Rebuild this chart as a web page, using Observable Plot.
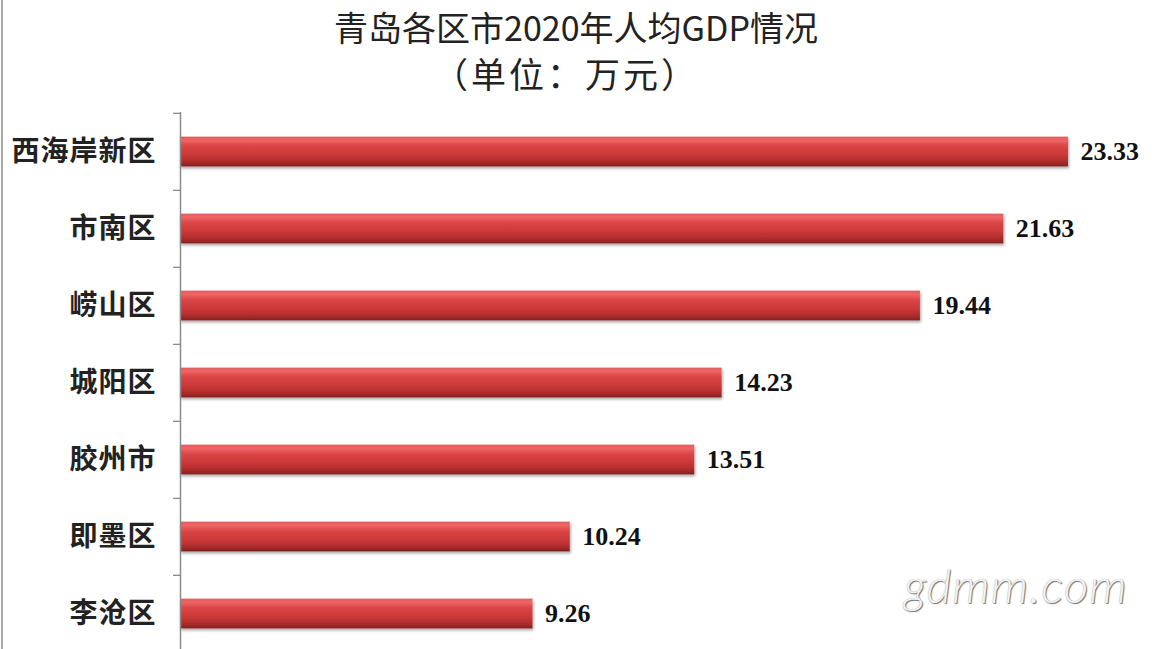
<!DOCTYPE html>
<html><head><meta charset="utf-8">
<script src="https://cdn.jsdelivr.net/npm/d3@7"></script>
<script src="https://cdn.jsdelivr.net/npm/@observablehq/plot@0.6"></script>
<style>
html,body{margin:0;padding:0;background:#fff;}
body{width:1176px;height:649px;overflow:hidden;position:relative;font-family:"Noto Sans CJK SC",sans-serif;}
#frame{position:absolute;left:1px;top:0;width:2px;height:649px;background:#a8a8a8;}
#title{position:absolute;left:0;top:4px;width:1176px;text-align:center;color:#222;line-height:46px;font-weight:400;}
#title div:first-child{padding-right:24px;font-size:34px;}
#title div:last-child{padding-right:44px;font-size:35px;letter-spacing:3px;}
#chart{position:absolute;left:0;top:100px;}
#wm{position:absolute;left:904px;top:556px;font-family:Lato,"Open Sans",sans-serif;font-style:italic;font-weight:300;font-size:48px;letter-spacing:1px;color:#f3f3f3;text-shadow:1px 1px 1px #6e6e6e,0 0 1px #9a9a9a;}
</style></head>
<body>
<div id="frame"></div>
<div id="title"><div>青岛各区市2020年人均GDP情况</div><div>（单位：万元）</div></div>
<div id="chart"></div>
<div id="wm">gdmm.com</div>
<script>
const districts = ["西海岸新区","市南区","崂山区","城阳区","胶州市","即墨区","李沧区"];
const gdpPerCapita = [23.33,21.63,19.44,14.23,13.51,10.24,9.26];
const data = districts.map((d,i)=>({district:d, value:gdpPerCapita[i]}));

const W=1176, H=553, mT=12, mB=0, mL=180, mR=108;
const step = (H-mT-mB)/districts.length;
const inset = (step-30)/2;

const chart = Plot.plot({
  width:W, height:H, marginTop:mT, marginBottom:mB, marginLeft:mL, marginRight:mR,
  style:{fontFamily:"Noto Sans CJK SC", background:"transparent", overflow:"visible"},
  x:{domain:[0, d3.max(gdpPerCapita)], axis:null},
  y:{domain:districts, padding:0, axis:null},
  marks:[
    Plot.barX(data,{x:"value", y:"district", fill:"url(#barGrad)", insetTop:inset, insetBottom:inset}),
    Plot.axisY({label:null, tickSize:0, tickPadding:24, fontSize:28, fontWeight:700, fill:"#222", textStroke:"none"}),
    Plot.axisY(districts,{label:null, tickSize:7, tickFormat:()=>"", dy:-step/2, stroke:"#8a8a8a", strokeWidth:1.3}),
    Plot.ruleX([0],{stroke:"#8a8a8a", strokeWidth:1.5}),
    Plot.text(data,{x:"value", y:"district", text:d=>d.value.toFixed(2), dx:12, textAnchor:"start",
      fontFamily:"Liberation Serif", fontWeight:"bold", fontSize:26, fill:"#111"})
  ]
});

const svg = d3.select(chart);
const defs = svg.insert("defs",":first-child");
const g = defs.append("linearGradient").attr("id","barGrad").attr("x1",0).attr("y1",0).attr("x2",0).attr("y2",1);
[[0,"#e35a5a"],[0.12,"#f06666"],[0.3,"#dc4646"],[0.65,"#c83636"],[0.88,"#a82a2a"],[1,"#7e2020"]]
  .forEach(([o,c])=>g.append("stop").attr("offset",o).attr("stop-color",c));
const f = defs.append("filter").attr("id","barShadow").attr("x","-5%").attr("y","-30%").attr("width","110%").attr("height","170%");
f.append("feDropShadow").attr("dx",1).attr("dy",2).attr("stdDeviation",1.5).attr("flood-color","#000").attr("flood-opacity",0.35);
svg.selectAll('g[aria-label="bar"] rect').attr("filter","url(#barShadow)");
svg.selectAll('g[aria-label="y-axis tick label"] text').style("letter-spacing","1px");

document.getElementById("chart").appendChild(chart);
</script>
</body></html>
